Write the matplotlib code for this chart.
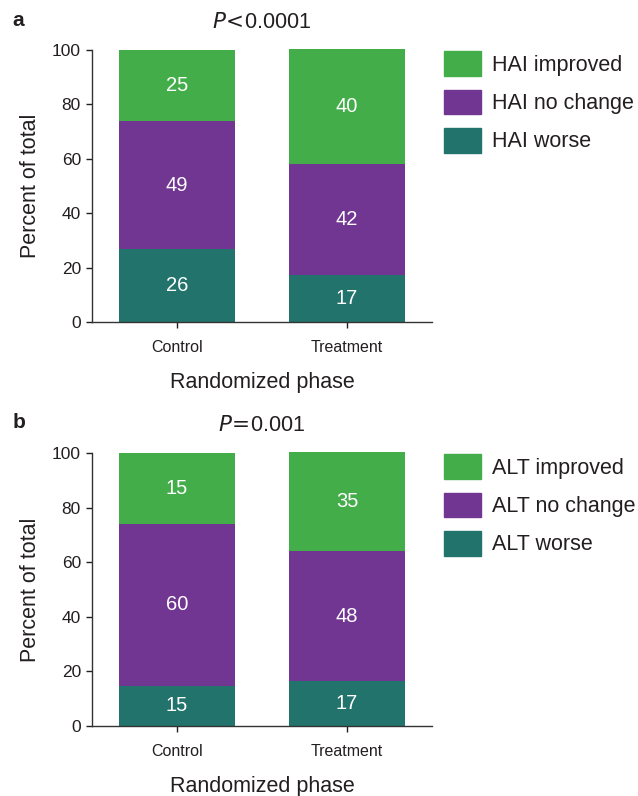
import matplotlib
matplotlib.use("Agg")
import matplotlib.pyplot as plt
from matplotlib.patches import Patch

plt.rcParams["font.family"] = ["Liberation Sans", "DejaVu Sans"]

groups = ["Control", "Treatment"]

# segment heights (worse, no change, improved)
hai_worse = [26.8, 17.3]
hai_nochange = [47.1, 40.8]
hai_improved = [26.1, 42.2]
# numbers printed inside the bars
hai_worse_lbl = ["26", "17"]
hai_nochange_lbl = ["49", "42"]
hai_improved_lbl = ["25", "40"]

alt_worse = [14.8, 16.5]
alt_nochange = [59.2, 47.6]
alt_improved = [26.0, 36.3]
alt_worse_lbl = ["15", "17"]
alt_nochange_lbl = ["60", "48"]
alt_improved_lbl = ["15", "35"]

c_improved = "#43AD4A"
c_nochange = "#713691"
c_worse = "#23736D"
txt = "#231F20"

fig = plt.figure(figsize=(6.38, 7.96), dpi=100)
ax_a = fig.add_axes([0.1442, 0.5955, 0.533, 0.3417])
ax_b = fig.add_axes([0.1442, 0.0879, 0.533, 0.3430])


def draw_panel(ax, worse, nochange, improved, lbls, prefix, title, letter):
    x = range(len(groups))
    w = 0.68
    bottoms2 = [a + b for a, b in zip(worse, nochange)]
    ax.bar(x, worse, w, color=c_worse, clip_on=False, zorder=2)
    ax.bar(x, nochange, w, bottom=worse, color=c_nochange, clip_on=False, zorder=2)
    ax.bar(x, improved, w, bottom=bottoms2, color=c_improved, clip_on=False, zorder=2)

    for i in x:
        ax.text(i, worse[i] / 2, lbls[0][i], ha="center", va="center",
                color="white", fontsize=14.5, zorder=3)
        ax.text(i, worse[i] + nochange[i] / 2, lbls[1][i], ha="center", va="center",
                color="white", fontsize=14.5, zorder=3)
        ax.text(i, bottoms2[i] + improved[i] / 2, lbls[2][i], ha="center", va="center",
                color="white", fontsize=14.5, zorder=3)

    ax.set_xlim(-0.5, 1.5)
    ax.set_ylim(0, 100)
    ax.set_yticks([0, 20, 40, 60, 80, 100])
    ax.set_xticks(list(x))
    ax.set_xticklabels(groups, fontsize=11.5, color=txt)
    ax.tick_params(axis="y", labelsize=12.5, colors=txt, length=4, width=1, pad=4)
    ax.tick_params(axis="x", colors=txt, length=4, width=1, pad=9)
    for s in ["top", "right"]:
        ax.spines[s].set_visible(False)
    for s in ["left", "bottom"]:
        ax.spines[s].set_color("#333333")
        ax.spines[s].set_linewidth(1)

    ax.set_ylabel("Percent of total", fontsize=15.5, color=txt, labelpad=8)
    ax.set_xlabel("Randomized phase", fontsize=15.5, color=txt, labelpad=12)
    ax.set_title(title, fontsize=15.5, color=txt, pad=16)
    ax.text(-0.235, 1.11, letter, transform=ax.transAxes, fontsize=15,
            fontweight="bold", color=txt, ha="left", va="center")

    handles = [Patch(color=c_improved), Patch(color=c_nochange), Patch(color=c_worse)]
    names = [prefix + " improved", prefix + " no change", prefix + " worse"]
    ax.legend(handles, names, loc="upper left", bbox_to_anchor=(1.035, 0.995),
              frameon=False, fontsize=15.5, handlelength=1.72, handleheight=1.4,
              handletextpad=0.5, labelspacing=0.62, borderpad=0, borderaxespad=0,
              labelcolor=txt)


draw_panel(ax_a, hai_worse, hai_nochange, hai_improved,
           [hai_worse_lbl, hai_nochange_lbl, hai_improved_lbl],
           "HAI", r"$P\!<\!$0.0001", "a")
draw_panel(ax_b, alt_worse, alt_nochange, alt_improved,
           [alt_worse_lbl, alt_nochange_lbl, alt_improved_lbl],
           "ALT", r"$P\!=\!$0.001", "b")

plt.savefig("out.png", dpi=100)
